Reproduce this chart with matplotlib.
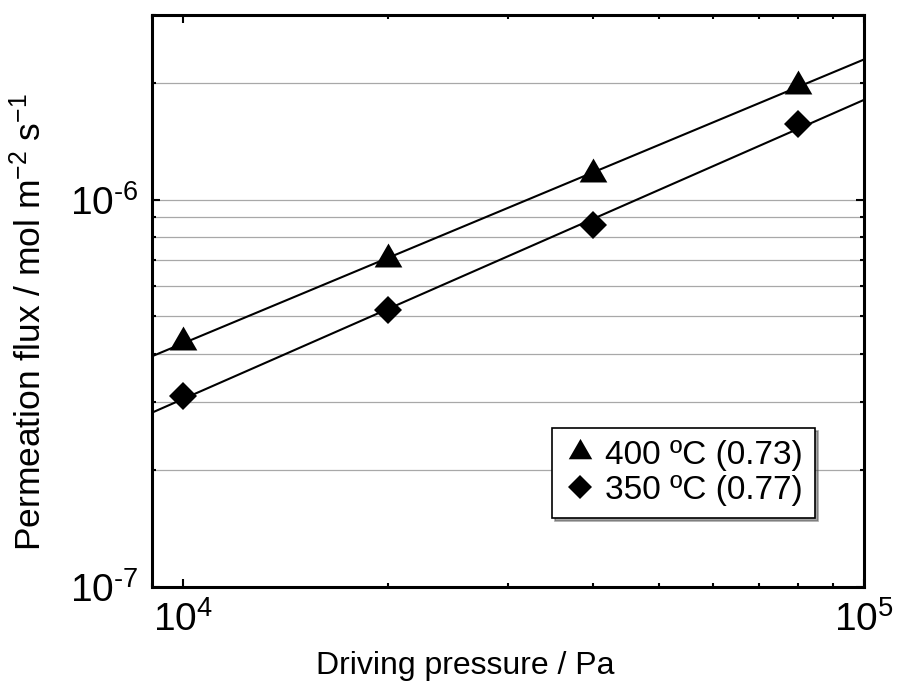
import numpy as np
import matplotlib
matplotlib.use("Agg")
import matplotlib.pyplot as plt
from matplotlib.path import Path
from matplotlib.ticker import LogLocator, NullFormatter, FuncFormatter

plt.rcParams['font.family'] = ['Liberation Sans', 'DejaVu Sans']
plt.rcParams['mathtext.fontset'] = 'custom'
plt.rcParams['mathtext.rm'] = 'Liberation Sans'
plt.rcParams['mathtext.it'] = 'Liberation Sans'

# data
pressure = [1e4, 2e4, 4e4, 8e4]
flux_400 = [4.29e-7, 7.03e-7, 1.168e-6, 1.97e-6]
flux_350 = [3.11e-7, 5.19e-7, 8.61e-7, 1.565e-6]
labels = ["400 ºC (0.73)", "350 ºC (0.77)"]

fig = plt.figure(figsize=(8.98, 6.95), dpi=100)
ax = fig.add_axes([152/898, 1-587/695, 712/898, 572/695])
ax.set_xscale('log')
ax.set_yscale('log')
xlim = (9000, 1e5)
ax.set_xlim(*xlim)
ax.set_ylim(1e-7, 3e-6)

tri = Path([(-1, -0.577), (1, -0.577), (0, 1.155), (-1, -0.577)],
           [Path.MOVETO, Path.LINETO, Path.LINETO, Path.CLOSEPOLY])

xs = np.logspace(np.log10(xlim[0]), np.log10(xlim[1]), 50)
for ys, mk, ms, lab in [(flux_400, tri, 23, labels[0]), (flux_350, 'D', 14.5, labels[1])]:
    k, b = np.polyfit(np.log10(pressure), np.log10(ys), 1)
    ax.plot(xs, 10**(b + k*np.log10(xs)), color='black', lw=1.5, zorder=2)
    ax.plot(pressure, ys, linestyle='none', marker=mk, ms=ms, color='black',
            markeredgewidth=0, label=lab, zorder=3)


def sci(v, pos):
    e = int(round(np.log10(v)))
    if e < 0:
        return r"$\mathdefault{10^{\text{-}%d}}$" % (-e)
    return r"$\mathdefault{10^{%d}}$" % e


ax.xaxis.set_major_formatter(FuncFormatter(sci))
ax.yaxis.set_major_formatter(FuncFormatter(sci))
ax.yaxis.set_minor_locator(LogLocator(base=10, subs=np.arange(2, 10)))
ax.xaxis.set_minor_locator(LogLocator(base=10, subs=np.arange(2, 10)))
ax.yaxis.set_minor_formatter(NullFormatter())
ax.xaxis.set_minor_formatter(NullFormatter())
ax.grid(True, which='both', axis='y', color='#a8a8a8', lw=0.9)
ax.set_axisbelow(True)

ax.tick_params(which='both', direction='in', top=True, right=True, width=1.5)
ax.tick_params(which='major', length=6, labelsize=28, pad=10)
ax.tick_params(which='minor', length=3)
for sp in ax.spines.values():
    sp.set_linewidth(2.2)

ax.set_xlabel("Driving pressure / Pa", fontsize=23)
ax.set_ylabel("Permeation flux / mol m$^{-2}$ s$^{-1}$", fontsize=25.5)
ax.xaxis.set_label_coords(0.44, -0.112)
ax.yaxis.set_label_coords(-0.146, 0.463)

leg = ax.legend(loc='lower right', bbox_to_anchor=(0.931, 0.121), fontsize=24,
                fancybox=False, shadow=True, edgecolor='black', framealpha=1,
                markerscale=0.85, handletextpad=0.25, borderpad=0.35,
                labelspacing=0.12, handlelength=1.0, borderaxespad=0)
leg.get_frame().set_linewidth(1.2)

fig.savefig("out.png", dpi=100)
